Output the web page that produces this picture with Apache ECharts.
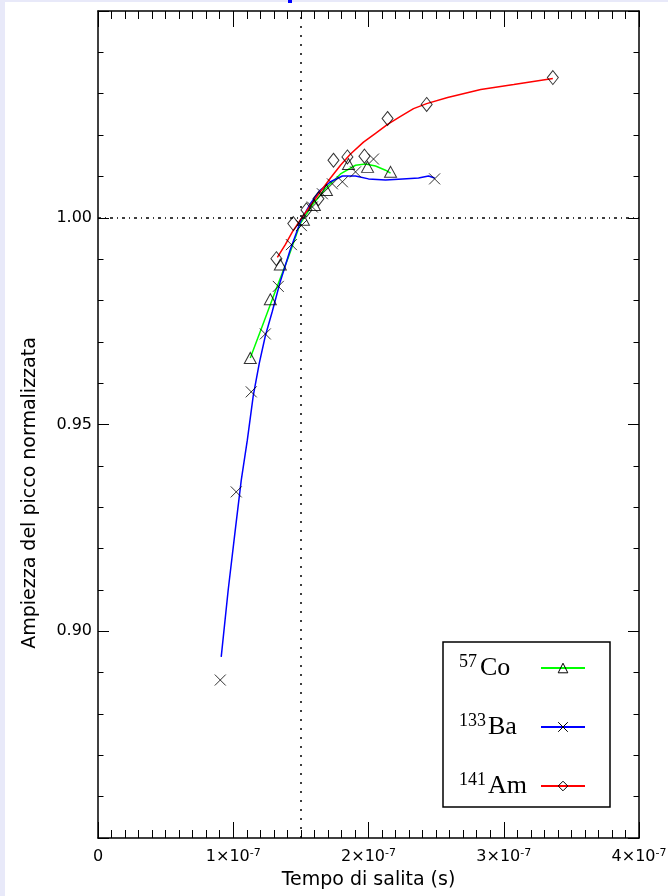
<!DOCTYPE html>
<html>
<head>
<meta charset="utf-8">
<title>Ampiezza del picco normalizzata</title>
<script src="https://cdn.jsdelivr.net/npm/echarts@6/dist/echarts.min.js"></script>
<style>
  html, body { margin: 0; padding: 0; background: #e8e9f9; }
  #chart { position: absolute; left: 5px; top: 2px; width: 663px; height: 894px; background: #fff; }
  #mark { position: absolute; left: 288px; top: 0; width: 4px; height: 3px; background: #0000ff; }
</style>
</head>
<body>
<div id="chart"></div>
<div id="mark"></div>
<script>
// tempo di salita in unita' di 1e-7 s, ampiezza normalizzata a t = 1.5e-7 s
const refTime = 1.5;
const refAmp = 1.0;

// 57Co: punti misurati e curva di fit
const coPoints = [[1.126, 0.9661], [1.274, 0.9803], [1.348, 0.9887], [1.519, 0.9995], [1.600, 1.0031],
  [1.689, 1.0067], [1.852, 1.0130], [1.993, 1.0123], [2.163, 1.0111]];
const coCurve = [[1.126, 0.9661], [1.215, 0.9738], [1.311, 0.9822], [1.407, 0.9904], [1.496, 0.9986],
  [1.585, 1.0031], [1.681, 1.0070], [1.793, 1.0106], [1.904, 1.0127], [1.978, 1.0130], [2.052, 1.0125],
  [2.126, 1.0115], [2.163, 1.0108]];

// 133Ba
const baPoints = [[0.904, 0.8882], [1.022, 0.9337], [1.133, 0.9579], [1.237, 0.9719], [1.333, 0.9834],
  [1.430, 0.9935], [1.504, 0.9981], [1.585, 1.0026], [1.659, 1.0058], [1.733, 1.0082], [1.807, 1.0087],
  [1.904, 1.0111], [2.037, 1.0142], [2.489, 1.0094]];
const baCurve = [[0.911, 0.8938], [0.963, 0.9101], [1.015, 0.9245], [1.059, 0.9365], [1.104, 0.9462],
  [1.148, 0.9570], [1.193, 0.9649], [1.237, 0.9714], [1.289, 0.9774], [1.348, 0.9846], [1.422, 0.9923],
  [1.496, 0.9990], [1.570, 1.0034], [1.644, 1.0067], [1.719, 1.0087], [1.807, 1.0101], [1.904, 1.0101],
  [2.000, 1.0094], [2.126, 1.0091], [2.252, 1.0094], [2.370, 1.0096], [2.444, 1.0101], [2.489, 1.0096]];

// 141Am
const amPoints = [[1.319, 0.9901], [1.444, 0.9986], [1.541, 1.0019], [1.630, 1.0046], [1.741, 1.0139],
  [1.844, 1.0147], [1.970, 1.0149], [2.141, 1.0240], [2.430, 1.0274], [3.363, 1.0339]];
const amCurve = [[1.326, 0.9904], [1.385, 0.9935], [1.437, 0.9966], [1.496, 0.9995], [1.570, 1.0029],
  [1.644, 1.0063], [1.719, 1.0096], [1.793, 1.0127], [1.867, 1.0154], [1.963, 1.0183], [2.052, 1.0204],
  [2.141, 1.0226], [2.237, 1.0245], [2.333, 1.0264], [2.430, 1.0276], [2.585, 1.0291], [2.830, 1.0310],
  [3.074, 1.0322], [3.363, 1.0337]];

const sources = ['57Co', '133Ba', '141Am'];
const crossPath = 'path://M0,0L10,10M0,10L10,0';

const chart = echarts.init(document.getElementById('chart'));

const tickBlack = { color: '#000', width: 1 };
const sansFont = 'DejaVu Sans';
const serifFont = 'Liberation Serif';

const xAxisBase = {
  type: 'value',
  min: 0,
  max: 4,
  interval: 1,
  axisLine: { show: true, onZero: false, lineStyle: { color: '#000', width: 1.5 } },
  axisTick: { show: true, inside: true, length: 16, lineStyle: tickBlack },
  minorTick: { show: true, splitNumber: 10, length: 8, lineStyle: tickBlack },
  splitLine: { show: false },
  minorSplitLine: { show: false }
};
const yAxisBase = {
  type: 'value',
  min: 0.85,
  max: 1.05,
  interval: 0.05,
  axisLine: { show: true, onZero: false, lineStyle: { color: '#000', width: 1.5 } },
  axisTick: { show: true, inside: true, length: 11, lineStyle: tickBlack },
  minorTick: { show: true, splitNumber: 5, length: 5.5, lineStyle: tickBlack },
  splitLine: { show: false },
  minorSplitLine: { show: false }
};

// legend text: superscript mass number + element, fixed width so the icons line up
const supStyle = { fontFamily: serifFont, fontSize: 18, color: '#000', verticalAlign: 'top', lineHeight: 18, align: 'left' };
const elStyle = { fontFamily: serifFont, fontSize: 26, color: '#000', lineHeight: 30, align: 'left' };

const option = {
  animation: false,
  backgroundColor: '#fff',
  grid: { left: 93, right: 29, top: 9, bottom: 58, outerBoundsMode: 'none' },
  xAxis: [
    Object.assign({}, xAxisBase, {
      position: 'bottom',
      name: 'Tempo di salita (s)',
      nameLocation: 'middle',
      nameGap: 33,
      nameTextStyle: { fontFamily: sansFont, fontSize: 19, color: '#000' },
      axisLabel: {
        margin: 10,
        color: '#000',
        formatter: v => v === 0 ? '{b|0}' : '{b|' + v + '×10}{sup|-7}',
        rich: {
          b: { fontFamily: sansFont, fontSize: 16, color: '#000', lineHeight: 18 },
          sup: { fontFamily: sansFont, fontSize: 11, color: '#000', verticalAlign: 'top', lineHeight: 11 }
        }
      }
    }),
    Object.assign({}, xAxisBase, { position: 'top', axisLabel: { show: false } })
  ],
  yAxis: [
    Object.assign({}, yAxisBase, {
      position: 'left',
      name: 'Ampiezza del picco normalizzata',
      nameLocation: 'middle',
      nameGap: 58,
      nameTextStyle: { fontFamily: sansFont, fontSize: 19, color: '#000', padding: [0, 137, 0, 0] },
      axisLabel: {
        margin: 6,
        color: '#000',
        fontFamily: sansFont,
        fontSize: 16,
        showMinLabel: false,
        showMaxLabel: false,
        formatter: v => v.toFixed(2)
      }
    }),
    Object.assign({}, yAxisBase, { position: 'right', axisLabel: { show: false } })
  ],
  legend: {
    show: true,
    data: sources,
    orient: 'vertical',
    left: 438,
    top: 640,
    align: 'right',
    itemWidth: 44,
    itemHeight: 12,
    itemGap: 31,
    padding: [11, 24, 8, 16],
    borderColor: '#000',
    borderWidth: 1.5,
    borderRadius: 0,
    selectedMode: false,
    itemStyle: { color: 'none', borderColor: '#000', borderWidth: 1 },
    textStyle: {
      color: '#000',
      rich: {
        s2: Object.assign({ width: 21 }, supStyle),
        s3: Object.assign({ width: 29 }, supStyle),
        e2: Object.assign({ width: 56 }, elStyle),
        e3: Object.assign({ width: 48 }, elStyle)
      }
    },
    formatter: name => {
      const m = name.match(/^(\d+)(\D+)$/);
      const k = m[1].length;
      return '{s' + k + '|' + m[1] + '}{e' + k + '|' + m[2] + '}';
    }
  },
  series: [
    {
      name: '57Co', type: 'line', data: coCurve, symbol: 'triangle', showSymbol: false, silent: true, z: 2,
      lineStyle: { color: '#00ff00', width: 1.5 },
      itemStyle: { color: '#00ff00' }
    },
    {
      name: '133Ba', type: 'line', data: baCurve, symbol: crossPath, showSymbol: false, silent: true, z: 2,
      lineStyle: { color: '#0000ff', width: 1.5 },
      itemStyle: { color: '#0000ff' },
      markLine: {
        silent: true,
        symbol: ['none', 'none'],
        label: { show: false },
        data: [
          { xAxis: refTime, lineStyle: { color: '#000', width: 1.5, type: [2, 7] } },
          { yAxis: refAmp, lineStyle: { color: '#000', width: 1.5, type: [3, 4, 1, 4] } }
        ]
      }
    },
    {
      name: '141Am', type: 'line', data: amCurve, symbol: 'diamond', showSymbol: false, silent: true, z: 2,
      lineStyle: { color: '#ff0000', width: 1.5 },
      itemStyle: { color: '#ff0000' }
    },
    {
      name: '57Co', type: 'scatter', data: coPoints, symbol: 'triangle', symbolSize: [12, 11], z: 3,
      itemStyle: { color: 'none', borderColor: '#000', borderWidth: 1 }
    },
    {
      name: '133Ba', type: 'scatter', data: baPoints, symbol: crossPath, symbolSize: 11, z: 3,
      itemStyle: { color: 'none', borderColor: '#000', borderWidth: 1 }
    },
    {
      name: '141Am', type: 'scatter', data: amPoints, symbol: 'diamond', symbolSize: [11, 14], z: 3,
      itemStyle: { color: 'none', borderColor: '#000', borderWidth: 1 }
    }
  ]
};

chart.setOption(option);
</script>
</body>
</html>
